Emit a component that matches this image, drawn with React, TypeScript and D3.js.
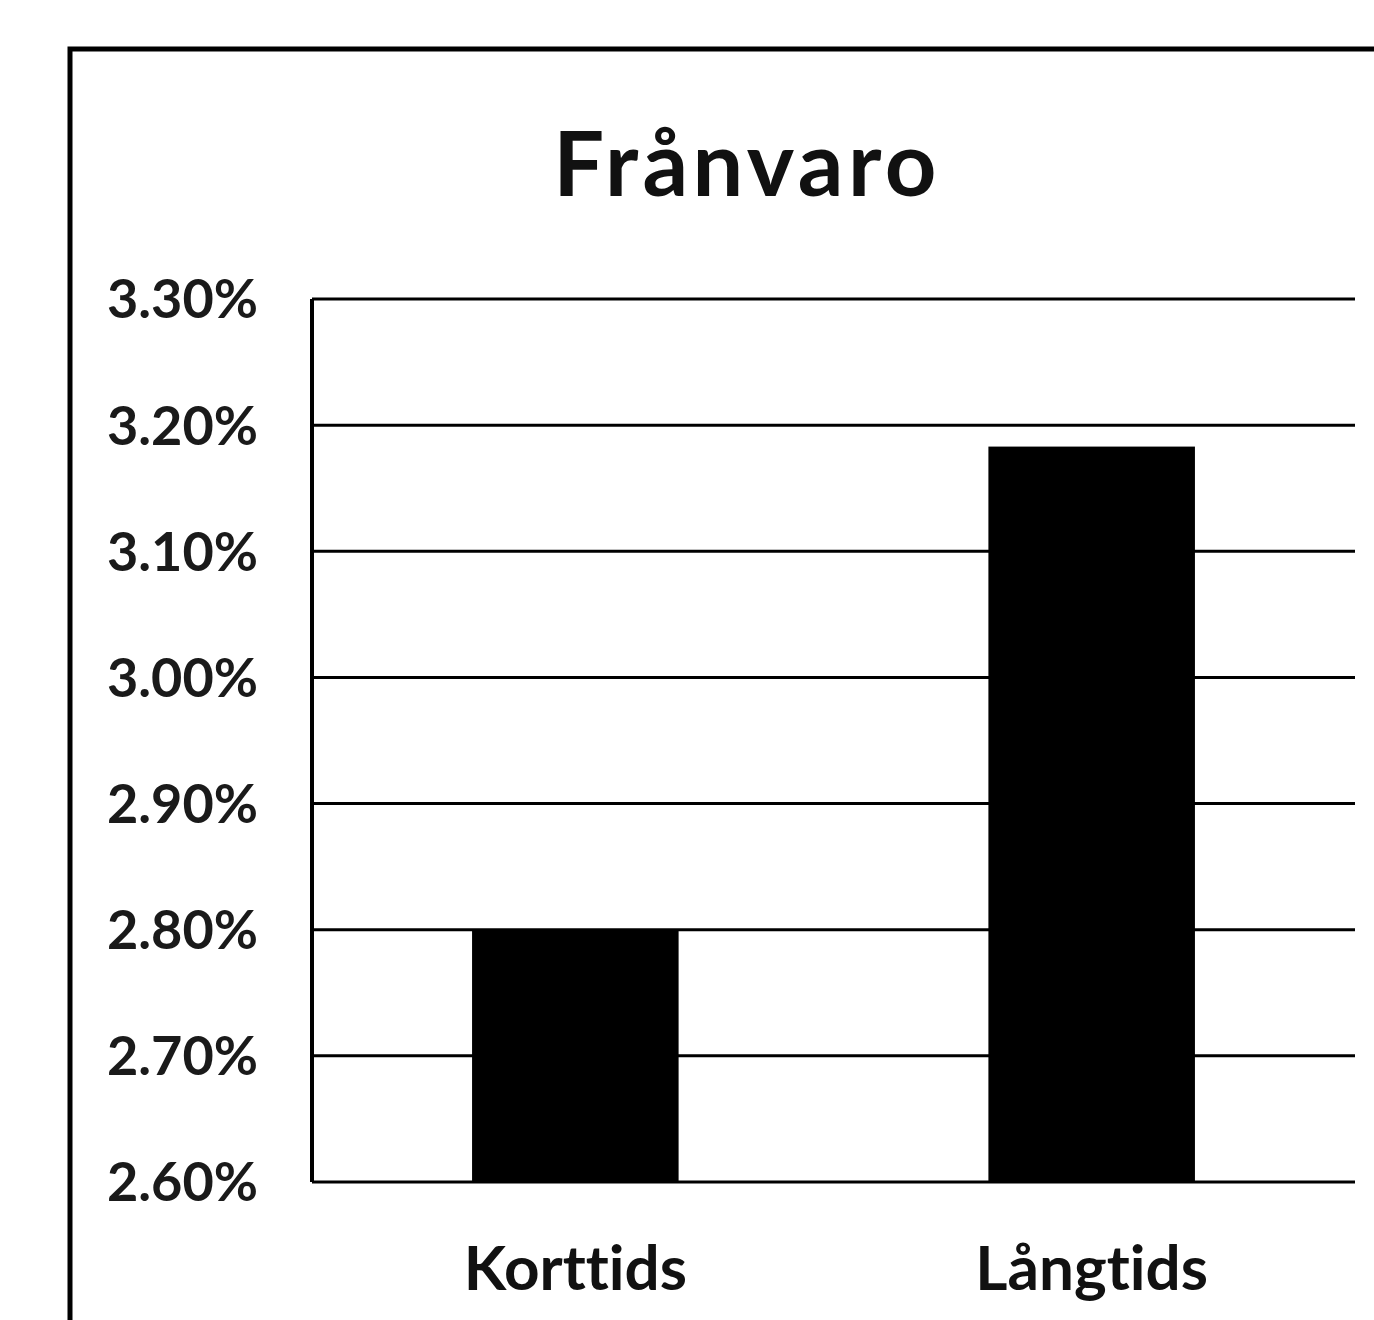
import React, { useEffect, useRef } from 'react'
import * as d3 from 'd3'

const categories = ['Korttids', 'Långtids']
const values = [0.028, 0.03183]
const yTicks = [0.026, 0.027, 0.028, 0.029, 0.03, 0.031, 0.032, 0.033]
const title = 'Frånvaro'

const W = 1374
const H = 1320
const margin = { top: 299, right: 19, bottom: 138, left: 312 }
const FONT = 'Lato, "Open Sans", sans-serif'

export default function App() {
  const ref = useRef<SVGSVGElement>(null)

  useEffect(() => {
    const svg = d3.select(ref.current)
    svg.selectAll('*').remove()

    const x = d3.scaleBand().domain(categories).range([margin.left, W - margin.right]).paddingInner(0.6).paddingOuter(0.31)
    const y = d3.scaleLinear().domain([0.026, 0.033]).range([H - margin.bottom, margin.top])

    svg.append('rect').attr('x', 0).attr('y', 0).attr('width', W).attr('height', H).attr('fill', '#fff')

    // outer chart frame (runs off the picture on the right and bottom)
    svg.append('rect').attr('x', 70).attr('y', 49).attr('width', W + 20).attr('height', H + 20)
      .attr('fill', 'none').attr('stroke', '#000').attr('stroke-width', 5)

    svg.append('text').text(title).attr('x', 747).attr('y', 196)
      .attr('text-anchor', 'middle').attr('font-family', FONT).attr('font-weight', 700)
      .attr('font-size', 90).attr('letter-spacing', 4.5).attr('fill', '#111')
      .style('font-variant-ligatures', 'none')

    // gridlines
    svg.append('g').selectAll('line').data(yTicks).join('line')
      .attr('x1', margin.left).attr('x2', W - margin.right)
      .attr('y1', d => y(d)).attr('y2', d => y(d))
      .attr('stroke', '#000').attr('stroke-width', 3)

    // y axis labels
    svg.append('g').selectAll('text').data(yTicks).join('text')
      .text(d => d3.format('.2%')(d))
      .attr('x', 258).attr('y', d => y(d)).attr('dy', '0.36em')
      .attr('text-anchor', 'end').attr('font-family', FONT).attr('font-weight', 700)
      .attr('font-size', 54).attr('fill', '#1a1a1a')

    svg.append('line').attr('x1', margin.left).attr('x2', margin.left)
      .attr('y1', y(0.033)).attr('y2', y(0.026)).attr('stroke', '#000').attr('stroke-width', 4)

    // bars
    svg.append('g').selectAll('rect').data(values).join('rect')
      .attr('x', (d, i) => x(categories[i])!)
      .attr('width', x.bandwidth())
      .attr('y', d => y(d))
      .attr('height', d => y(0.026) - y(d))
      .attr('fill', '#000')

    // category labels
    svg.append('g').selectAll('text').data(categories).join('text')
      .text(d => d)
      .attr('x', d => x(d)! + x.bandwidth() / 2).attr('y', 1290)
      .attr('text-anchor', 'middle').attr('font-family', FONT).attr('font-weight', 700)
      .attr('font-size', 62).attr('fill', '#111')
      .style('font-variant-ligatures', 'none')
  }, [])

  return (
    <svg ref={ref} width={W} height={H} style={{ position: 'absolute', left: 0, top: 0, display: 'block' }} />
  )
}
